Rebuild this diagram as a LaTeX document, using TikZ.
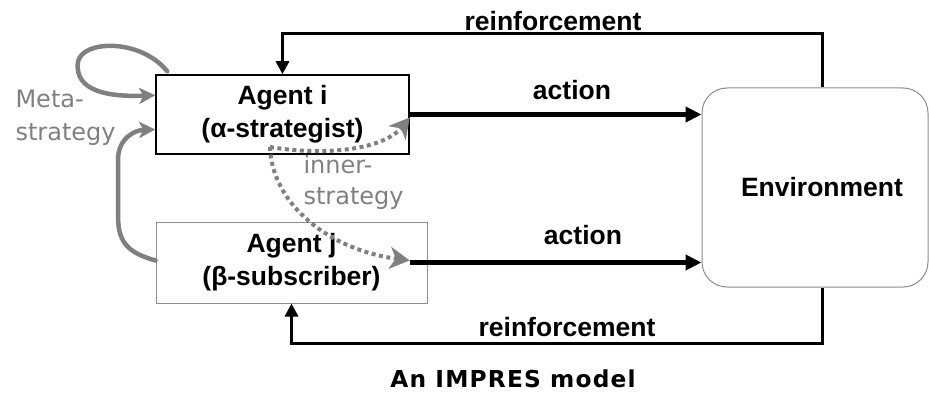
\documentclass[tikz,border=0pt]{standalone}
\usepackage{fontspec}
\setmainfont{Liberation Sans}
\newfontfamily\handfont{DejaVu Sans}
\newfontfamily\titlefont[LetterSpace=5]{DejaVu Sans}
\usetikzlibrary{arrows.meta}
\definecolor{pengray}{RGB}{128,128,128}
\definecolor{boxgray}{RGB}{140,140,140}
\begin{document}
\begin{tikzpicture}[x=1pt,y=-1pt,
  agentbox/.style={draw,line width=1.5pt,align=center,inner sep=0pt,
    font=\fontsize{26.5}{33}\selectfont\bfseries},
  lbl/.style={font=\fontsize{26.5}{30}\selectfont\bfseries},
  hand/.style={text=pengray,align=left,anchor=west,
    font=\fontsize{24}{33}\selectfont\handfont},
  reinf/.style={line width=3pt,-{Triangle[length=13pt,width=13pt]}},
  act/.style={line width=4.5pt,-{Triangle[length=16pt,width=15pt]}},
  metaarrow/.style={pengray,line width=4.5pt,line cap=round,
    -{Stealth[length=16pt,width=16pt,inset=4pt]}},
  innerarrow/.style={pengray,line width=4pt,dash pattern=on 4pt off 3.5pt,
    -{Stealth[length=20pt,width=22pt,inset=6pt]}}]
\useasboundingbox (0,0) rectangle (929,393);
% boxes
\node[agentbox,minimum width=253pt,minimum height=79pt] (ai) at (282.5,114.5) {Agent i\\(α-strategist)};
\node[agentbox,draw=boxgray,line width=1pt,minimum width=271pt,minimum height=81pt] (aj) at (291.5,262.5) {Agent j\\(β-subscriber)};
\node[draw=boxgray,line width=1pt,rounded corners=25pt,minimum width=226pt,minimum height=199pt,lbl] (env) at (815,187.5) {\hspace*{14pt}Environment};
% reinforcement loops
\coordinate (rt) at (822,34);
\coordinate (rb) at (822,343);
\draw[reinf] (rt |- env.north) -- (rt) -| (ai.north);
\draw[reinf] (rb |- env.south) -- (rb) -| (aj.south);
\node[lbl] (rtl) at (553,21) {reinforcement};
\node[lbl] (rbl) at (567,327) {reinforcement};
% actions
\draw[act] (ai.east) -- (ai.east -| env.west);
\draw[act] (ai.east |- aj.east) -- (aj.east -| env.west);
\node[lbl] (atl) at (572,90) {action};
\node[lbl] (abl) at (583,235) {action};
% meta-strategy
\draw[metaarrow] ([xshift=12pt,yshift=3pt]ai.north west) .. controls (140,38) and (82,40) .. (78,62)
  .. controls (74,92) and (110,97) .. ([yshift=-21pt]ai.north west);
\draw[metaarrow] ([yshift=2pt]aj.west) .. controls (125,252) and (118,240) .. (118,215) -- (118,160)
  .. controls (118,138) and (135,130) .. ([yshift=-15pt]ai.west);
\node[hand] (meta) at (12,118) {Meta-\\strategy};
% inner-strategy
\coordinate (split) at (270,147);
\draw[innerarrow] (split) .. controls (330,157) and (385,148) .. ([yshift=-3pt]ai.east);
\draw[innerarrow] (split) .. controls (272,205) and (330,250) .. ([yshift=2pt]ai.east |- aj.east);
\node[hand,font=\fontsize{24}{31}\selectfont\handfont] (inner) at (300,182) {inner-\\strategy};
% title
\node[font=\fontsize{23.3}{28}\selectfont\titlefont\bfseries] (title) at (513,379) {An IMPRES model};
\end{tikzpicture}
\end{document}
